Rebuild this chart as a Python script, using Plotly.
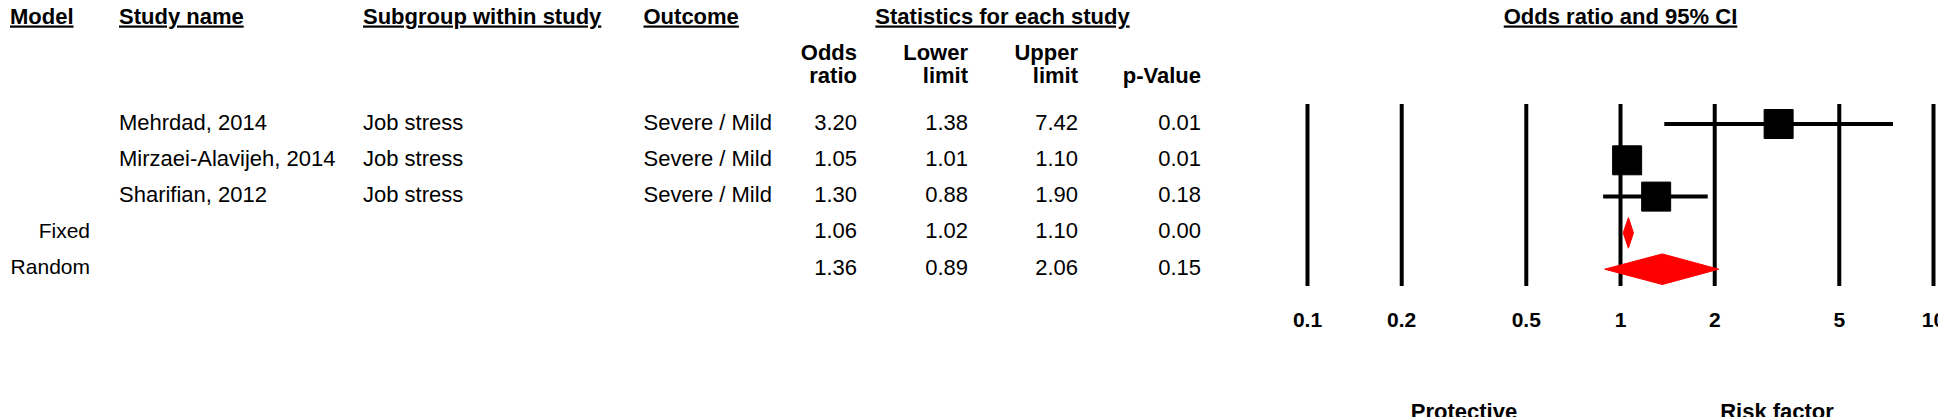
import math
import plotly.graph_objects as go

# table data
studies = ["Mehrdad, 2014", "Mirzaei-Alavijeh, 2014", "Sharifian, 2012"]
subgroups = ["Job stress", "Job stress", "Job stress"]
outcomes = ["Severe / Mild", "Severe / Mild", "Severe / Mild"]
odds = [3.20, 1.05, 1.30]
lower = [1.38, 1.01, 0.88]
upper = [7.42, 1.10, 1.90]
pvals = [0.01, 0.01, 0.18]

# pooled estimates
models = ["Fixed", "Random"]
pooled_odds = [1.06, 1.36]
pooled_lower = [1.02, 0.89]
pooled_upper = [1.10, 2.06]
pooled_p = [0.00, 0.15]

tick_vals = [0.1, 0.2, 0.5, 1, 2, 5, 10]
tick_text = ["0.1", "0.2", "0.5", "1", "2", "5", "10"]

W, H = 1946, 417
FONT = "Liberation Sans, Arial, sans-serif"
FS = 22

# rows on the y axis: 0..4, one unit = 36.3 px
ROW_PX, ROW0_PX = 36.3, 116.0
def ypx(p):
    return (p - ROW0_PX) / ROW_PX

# x position (px) of OR = 1 and px per decade on the forest plot
ONE_PX, DECADE_PX = 1612.5, 313.0
DX = -8  # shift for the table columns

n = len(studies)
rows_all = list(range(n + len(models)))
rows_st = rows_all[:n]
rows_pool = rows_all[n:]

fig = go.Figure()

def txt(x, y, text, pos, bold=False, axis="x", size=FS, under=False, color="black"):
    if axis == "x":
        x = [v + DX for v in x]
    fig.add_trace(go.Scatter(
        x=x, y=y, text=text, mode="text", textposition=pos, xaxis=axis, yaxis="y",
        textfont=dict(family=FONT, size=size, color=color,
                      weight="bold" if bold else "normal",
                      lineposition="under" if under else "none"),
        hoverinfo="skip", showlegend=False, cliponaxis=False))

# vertical reference lines at each tick (log axis)
vx, vy = [], []
for t in tick_vals:
    vx += [t, t, None]
    vy += [ypx(96), ypx(278), None]
fig.add_trace(go.Scatter(x=vx, y=vy, mode="lines", xaxis="x2", yaxis="y",
                         line=dict(color="black", width=4), hoverinfo="skip", showlegend=False))

# confidence intervals
cx, cy = [], []
for lo, hi, r in zip(lower, upper, rows_st):
    cx += [lo, hi, None]
    cy += [r, r, None]
fig.add_trace(go.Scatter(x=cx, y=cy, mode="lines", xaxis="x2", yaxis="y",
                         line=dict(color="black", width=4), hoverinfo="skip", showlegend=False))

# point estimates
fig.add_trace(go.Scatter(x=odds, y=rows_st, mode="markers", xaxis="x2", yaxis="y",
                         marker=dict(symbol="square", size=29, color="black",
                                     line=dict(color="black", width=1)),
                         hoverinfo="skip", showlegend=False))

# pooled diamonds
dh = 15.3 / ROW_PX
for o, lo, hi, r in zip(pooled_odds, pooled_lower, pooled_upper, rows_pool):
    fig.add_trace(go.Scatter(x=[lo, o, hi, o, lo], y=[r, r - dh, r, r + dh, r],
                             mode="lines", fill="toself", fillcolor="#ff0000",
                             line=dict(color="#ff0000", width=1), xaxis="x2", yaxis="y",
                             hoverinfo="skip", showlegend=False))

# axis labels under the plot
txt(tick_vals, [ypx(314)] * len(tick_vals), tick_text, "middle center", bold=True, axis="x2", size=21)
txt([10 ** -0.5, 10 ** 0.5], [ypx(405)] * 2, ["Protective", "Risk factor"], "middle center", bold=True, axis="x2")

# column headers
hy = ypx(10)
txt([1], [hy], ["Odds ratio and 95% CI"], "middle center", bold=True, axis="x2", under=True)
txt([10, 119, 363, 643.5], [hy] * 4, ["Model", "Study name", "Subgroup within study", "Outcome"],
    "middle right", bold=True, under=True)
txt([1002.5], [hy], ["Statistics for each study"], "middle center", bold=True, under=True)
stat_x = [857, 968, 1078, 1201]
txt(stat_x[:3], [ypx(46.5)] * 3, ["Odds", "Lower", "Upper"], "middle left", bold=True)
txt(stat_x, [ypx(69.5)] * 4, ["ratio", "limit", "limit", "p-Value"], "middle left", bold=True)

# table body
txt([119] * n, rows_st, studies, "middle right")
txt([363] * n, rows_st, subgroups, "middle right")
txt([643.5] * n, rows_st, outcomes, "middle right")
txt([90] * len(models), rows_pool, models, "middle left", size=21)
all_or = odds + pooled_odds
all_lo = lower + pooled_lower
all_hi = upper + pooled_upper
all_p = pvals + pooled_p
for xx, vals in zip(stat_x, [all_or, all_lo, all_hi, all_p]):
    txt([xx] * len(vals), rows_all, [f"{v:.2f}" for v in vals], "middle left")

log_lo = -ONE_PX / DECADE_PX
log_hi = (W - ONE_PX) / DECADE_PX

fig.update_layout(
    width=W, height=H, margin=dict(l=0, r=0, t=0, b=0),
    paper_bgcolor="white", plot_bgcolor="white", showlegend=False,
    xaxis=dict(range=[0, W], visible=False, fixedrange=True),
    xaxis2=dict(type="log", range=[log_lo, log_hi], overlaying="x", visible=False, fixedrange=True),
    yaxis=dict(range=[ypx(H), ypx(0)], visible=False, fixedrange=True),
)

fig.write_html("out.html")
